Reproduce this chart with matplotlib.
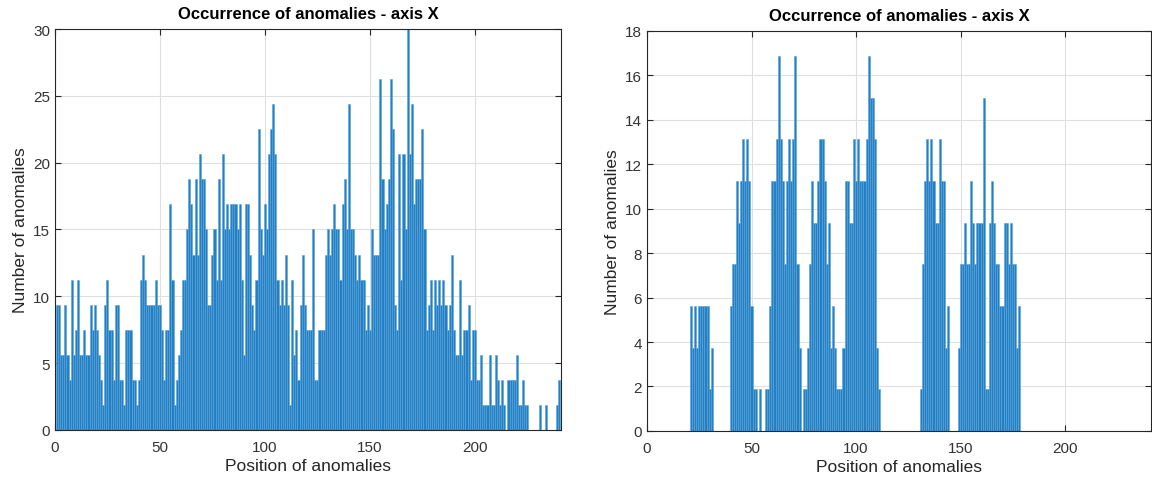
import numpy as np
import matplotlib.pyplot as plt

# bar heights are multiples of one step (30/16)
STEP = 1.875

positions = np.arange(1, 241)

# left panel, levels for positions 1..240
left_levels = [
    5, 5, 3, 3, 5, 3, 2, 6, 3, 4, 6, 3, 3, 4, 3, 3, 5, 4, 5, 4,
    3, 2, 1, 5, 6, 4, 4, 2, 5, 5, 2, 2, 1, 4, 4, 4, 2, 2, 1, 2,
    6, 7, 6, 5, 5, 5, 5, 6, 5, 5,
    4, 2, 4, 4, 9, 6, 1, 2, 3, 4, 6, 6, 8, 10, 9, 7, 10, 7, 11, 10,
    10, 8, 5, 5, 7, 8, 6, 10, 6, 11, 8, 9, 8, 9, 9, 9, 8, 9, 6, 3,
    9, 9, 7, 5, 4, 6, 12, 8, 7, 9,
    8, 11, 12, 13, 11, 6, 5, 6, 5, 7, 5, 1, 6, 3, 4, 2, 5, 7, 5, 4,
    4, 4, 8, 2, 2, 4, 4, 4, 7, 8, 7, 8, 9, 8, 8, 6, 9, 10, 8, 13,
    8, 8, 7, 6, 7, 6, 6, 4, 5,
    4, 8, 7, 7, 7, 14, 10, 8, 9, 10, 14, 12, 5, 4, 11, 6, 11, 8, 16, 11,
    13, 9, 10, 10, 10, 12, 8, 4, 5, 6, 4, 6, 5, 6, 5, 6, 5, 4, 5, 7,
    4, 3, 3, 6, 3, 4, 4, 5, 2, 4,
    4, 2, 2, 3, 1, 1, 1, 3, 1, 1, 3, 2, 1, 2, 1, 0, 2, 2, 2, 2,
    3, 1, 1, 2, 1, 1, 0, 0, 0, 0, 0, 1, 0, 0, 1, 0, 0, 0, 0, 1, 2,
]

# right panel, levels for positions 1..240
right_levels = (
    [0] * 20
    + [3, 2, 3, 2, 3, 3, 3, 3, 3, 1, 2]
    + [0] * 8
    + [3, 4, 4, 6, 5, 6, 7, 6, 7, 6, 3, 1, 1, 0, 1, 0, 0, 1, 1]
    + [3, 6, 6, 7, 9, 7, 6, 4, 6, 7, 6, 7, 9, 4, 2, 0, 1, 1, 2, 4,
       6, 5, 5, 6, 7, 7, 6, 4, 5, 2, 3, 2, 1, 1, 1, 2, 6, 6, 5, 5,
       7, 6, 7, 6, 6, 6, 7, 9, 8, 8, 7, 2, 1]
    + [0] * 19
    + [1, 4, 6, 7, 6, 7, 6, 5, 5, 7, 6, 6, 2, 3]
    + [0] * 4
    + [2, 4, 4, 5, 4, 4, 6, 5, 4, 5, 5, 5, 8, 1, 1, 5, 6, 5, 4, 4,
       3, 3, 5, 5, 4, 5, 4, 4, 2, 3]
    + [0] * 62
)

left_vals = np.array(left_levels) * STEP
right_vals = np.array(right_levels) * STEP

title = 'Occurrence of anomalies - axis X'
xlab = 'Position of anomalies'
ylab = 'Number of anomalies'

plt.rcParams['font.family'] = ['Liberation Sans', 'DejaVu Sans']

fig = plt.figure(figsize=(11.52, 4.81), dpi=100)
ax1 = fig.add_axes([0.0477, 0.104, 0.4393, 0.8336])
ax2 = fig.add_axes([0.5616, 0.102, 0.4375, 0.8315])

for ax, vals, ymax, yt in [(ax1, left_vals, 30, np.arange(0, 31, 5)),
                           (ax2, right_vals, 18, np.arange(0, 19, 2))]:
    ax.bar(positions, vals, width=1.0, color='#2480c4',
           edgecolor='#5aa2d9', linewidth=0.4)
    ax.set_xlim(0, 241)
    ax.set_ylim(0, ymax)
    ax.set_xticks([0, 50, 100, 150, 200])
    ax.set_yticks(yt)
    ax.set_axisbelow(True)
    ax.grid(True, color='#dfdfdf', linewidth=0.8)
    ax.tick_params(direction='in', top=True, right=True, length=4,
                   colors='#262626', labelsize=11, labelcolor='#333333')
    ax.tick_params(axis='x', pad=7)
    for s in ax.spines.values():
        s.set_color('#262626')
        s.set_linewidth(0.8)
    ax.set_title(title, fontsize=12, fontweight='bold', color='black', pad=8)
    ax.set_xlabel(xlab, fontsize=12.5, color='#262626', labelpad=3)
    ax.set_ylabel(ylab, fontsize=12.5, color='#262626', labelpad=4)

fig.savefig('out.png', dpi=100)
